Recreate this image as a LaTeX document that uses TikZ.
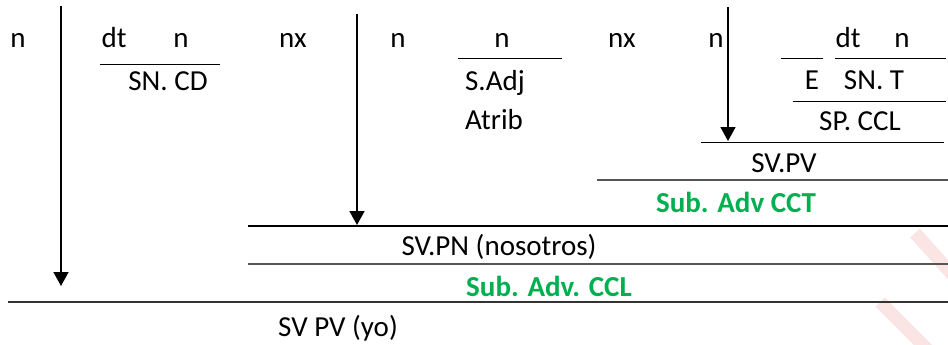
\documentclass[tikz,border=0pt]{standalone}
\usepackage{fontspec}
\setmainfont{Carlito}
\usetikzlibrary{arrows.meta}
\definecolor{wordgreen}{HTML}{00B050}
\definecolor{wmark}{HTML}{FBE4E4}
\definecolor{rulegray}{HTML}{555555}
\begin{document}
\begin{tikzpicture}[x=1pt,y=-1pt,
  lbl/.style={inner sep=0pt,anchor=base,font=\fontsize{29}{33}\selectfont},
  glbl/.style={lbl,text=wordgreen,font=\fontsize{29}{33}\selectfont\bfseries},
  rule/.style={line width=1pt,draw=black},
  grule/.style={line width=1.3pt,draw=rulegray},
  down/.style={line width=1.6pt,-{Triangle[length=14pt,width=15pt]}}]
\useasboundingbox (0,0) rectangle (948,345);
% faint watermark stripes
\draw[wmark,line width=13pt] (915,233) -- (960,283);
\draw[wmark,line width=13pt] (880,302) -- (930,352);
% row of words
\node[lbl] (n1) at (18,48) {n};
\node[lbl] (dt1) at (114,48) {dt};
\node[lbl] (n2) at (181,48) {n};
\node[lbl] (nx1) at (293,48) {nx};
\node[lbl] (n3) at (398,48) {n};
\node[lbl] (n4) at (502,48) {n};
\node[lbl] (nx2) at (622,48) {nx};
\node[lbl] (n5) at (716,48) {n};
\node[lbl] (dt2) at (848,48) {dt};
\node[lbl] (n6) at (902,48) {n};
% phrases
\node[lbl] (sncd) at (168,90) {SN. CD};
\node[lbl] (sadj) at (495,90) {S.Adj};
\node[lbl] (atrib) at (494,129) {Atrib};
\node[lbl] (e) at (812,89) {E};
\node[lbl] (snt) at (874,89) {SN. T};
\node[lbl] (spccl) at (860,130) {SP. CCL};
\node[lbl] (svpv) at (784,172) {SV.PV};
\node[glbl] (cct) at (736,212) {Sub. Adv CCT};
\node[lbl] (svpn) at (499,255) {SV.PN (nosotros)};
\node[glbl] (ccl) at (549,296) {Sub. Adv. CCL};
\node[lbl] (svyo) at (338,336) {SV PV (yo)};
% underlines
\coordinate (u1a) at (100,65); \coordinate (u1b) at (220,65);
\draw[rule] (u1a) -- (u1b);
\coordinate (u2a) at (458,59); \coordinate (u2b) at (562,59);
\draw[rule] (u2a) -- (u2b);
\coordinate (u3a) at (781,59); \coordinate (u3b) at (823,59);
\draw[rule] (u3a) -- (u3b);
\coordinate (u4a) at (835,59); \coordinate (u4b) at (946,59);
\draw[rule] (u4a) -- (u4b);
\coordinate (u5a) at (793,101); \coordinate (u5b) at (946,101);
\draw[rule] (u5a) -- (u5b);
\coordinate (u6a) at (701,142); \coordinate (u6b) at (944,142);
\draw[rule] (u6a) -- (u6b);
\coordinate (u7a) at (597,180); \coordinate (u7b) at (948,180);
\draw[grule] (u7a) -- (u7b);
\coordinate (u8a) at (248,226); \coordinate (u8b) at (948,226);
\draw[line width=1.8pt] (u8a) -- (u8b);
\coordinate (u9a) at (248,264); \coordinate (u9b) at (948,264);
\draw[grule] (u9a) -- (u9b);
\coordinate (u10a) at (8,302); \coordinate (u10b) at (948,302);
\draw[grule,draw=black!80] (u10a) -- (u10b);
% arrows
\coordinate (a1s) at (61,6); \coordinate (a1e) at (61,286);
\draw[down] (a1s) -- (a1e);
\coordinate (a2s) at (357,14); \coordinate (a2e) at (357,225);
\draw[down] (a2s) -- (a2e);
\coordinate (a3s) at (728,7); \coordinate (a3e) at (728,141);
\draw[down] (a3s) -- (a3e);
\end{tikzpicture}
\end{document}
